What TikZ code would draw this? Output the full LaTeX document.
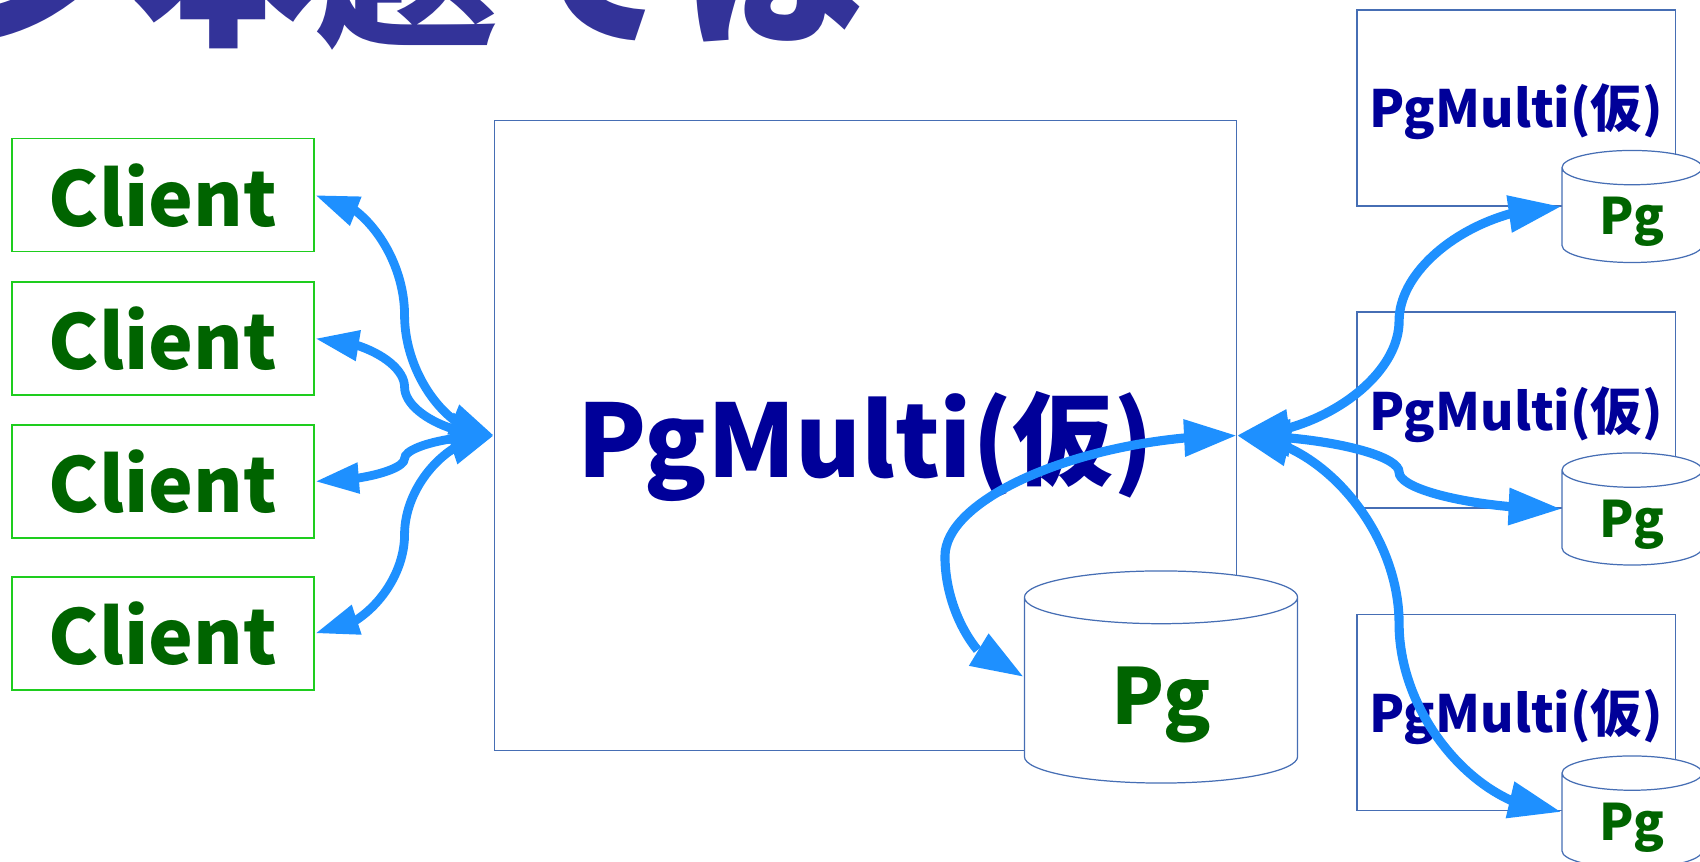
\documentclass[tikz,border=0pt]{standalone}
\usepackage{fontspec}
\setmainfont{Noto Sans CJK JP}
\newfontfamily\cjk{Noto Sans CJK JP}
\usetikzlibrary{arrows.meta,bending,shapes.geometric,calc}
\definecolor{titleblue}{RGB}{51,51,153}
\definecolor{navy}{RGB}{0,0,153}
\definecolor{leafgreen}{RGB}{0,100,0}
\definecolor{boxgreen}{RGB}{30,205,30}
\definecolor{boxblue}{RGB}{70,110,180}
\definecolor{linkblue}{RGB}{30,144,255}
\newcommand{\pgmulti}{PgMulti({\cjk 仮})}

\begin{document}
\begin{tikzpicture}[x=0.01cm, y=-0.01cm]
  \tikzstyle{client} = [draw=boxgreen, line width=0.5pt, minimum width=3.02cm, minimum height=1.13cm, inner sep=0pt, text height=0.62cm, text depth=0pt, text=leafgreen, font=\bfseries\fontsize{21.5pt}{25pt}\selectfont]
  \tikzstyle{proxy} = [draw=boxblue, line width=0.35pt, inner sep=0pt, minimum width=3.18cm, minimum height=1.96cm, text height=0.40cm, text depth=0pt, text=navy, font=\bfseries\fontsize{14.6pt}{18pt}\selectfont]
  \tikzstyle{bigproxy} = [proxy, minimum width=7.41cm, minimum height=6.29cm, text height=0.83cm, font=\bfseries\fontsize{28.7pt}{34pt}\selectfont]
  \tikzstyle{pg} = [cylinder, shape border rotate=90, shape aspect=0.53, anchor=shape center, draw=boxblue, line width=0.35pt, fill=white, inner sep=0pt, minimum width=1.40cm, minimum height=1.12cm, text height=0.39cm, text depth=0pt, text=leafgreen, font=\bfseries\fontsize{14.3pt}{17pt}\selectfont]
  \tikzstyle{bigpg} = [pg, minimum width=2.73cm, minimum height=2.12cm, text height=0.68cm, font=\bfseries\fontsize{22pt}{26pt}\selectfont]
  \tikzstyle{link} = [draw=linkblue, line width=2.5pt, arrows={Triangle[length=12.5pt, width=8.2pt, flex]-Triangle[length=12.5pt, width=8.2pt, flex]}]
  \tikzstyle{widelink} = [link, line width=2.6pt, arrows={Triangle[length=15pt, width=10pt, flex]-Triangle[length=15pt, width=10pt, flex]}]
  \tikzset{
    sbend/.style={to path={let \p1=(\tikztostart), \p2=(\tikztotarget), \n1={\x1+#1*(\x2-\x1)} in
      .. controls ({(\x1+\n1)/2},\y1) and ({\n1*1pt},{(3*\y1+\y2)/4}) .. ({\n1*1pt},{(\y1+\y2)/2})
      .. controls ({\n1*1pt},{(\y1+3*\y2)/4}) and ({(\n1+\x2)/2},\y2) .. (\tikztotarget)}},
    sbend/.default=0.5
  }
  \useasboundingbox (0,0) rectangle (1700,862);

  % title, cut off at the top
  \node[anchor=base west, inner sep=0pt, text=titleblue, font=\cjk\bfseries\fontsize{52pt}{58pt}\selectfont] (title) at (-51,32) {ン本題では};

  % clients
  \foreach \y [count=\i] in {195,338.5,481.5,633.5}
    \node[client] (c\i) at (163,\y) {Client};

  % proxy in the middle with its own Pg
  \node[bigproxy] (main) at (865.5,435.5) {\pgmulti};
  \node[bigpg] (db) at (1161,677) {Pg};

  % other proxies on the right
  \foreach \y [count=\i] in {108,410,712.5}
    \node[proxy] (m\i) at (1516,\y) {\pgmulti};
  \foreach \y [count=\i] in {206.5,509,812}
    \node[pg] (p\i) at (1632,\y) {Pg};

  % links
  \foreach \i in {1,...,4}
    \draw[link] (c\i.east) to[sbend] (main.west);
  \foreach \i in {1,2,3}
    \draw[widelink] (main.east) to[sbend] (p\i.shape center -| p\i.west);
  \draw[widelink] (main.east) to[sbend=1.37] (db.shape center -| db.west);
\end{tikzpicture}
\end{document}
